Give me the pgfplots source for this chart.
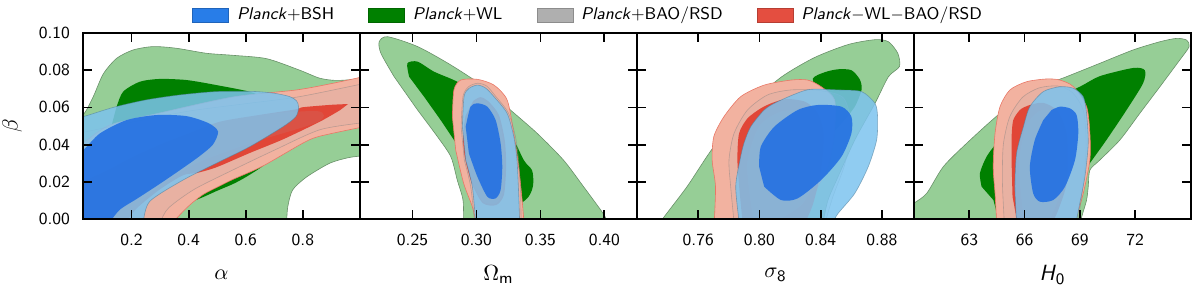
\documentclass[border=0pt]{standalone}
\usepackage{pgfplots}
\pgfplotsset{compat=1.18}
\renewcommand{\familydefault}{\sfdefault}
\definecolor{lgreen}{RGB}{150,206,150}
\definecolor{dgreen}{RGB}{0,128,0}
\definecolor{lsalmon}{RGB}{242,178,160}
\definecolor{dred}{RGB}{225,70,55}
\definecolor{lblue}{RGB}{125,195,238}
\definecolor{dblue}{RGB}{35,112,226}
\definecolor{lgray}{RGB}{175,175,175}
\definecolor{legblue}{RGB}{40,125,232}
\definecolor{legred}{RGB}{228,78,64}
\pgfplotsset{
  panel/.style={
    scale only axis, width=138.5pt, height=93pt, anchor=south west,
    ymin=0, ymax=0.1, ytick={0,0.02,0.04,0.06,0.08,0.1},
    axis on top,
    axis line style={line width=1.4pt},
    major tick style={line width=0.9pt, black},
    major tick length=4.5pt,
    tick align=inside,
    tick label style={font=\fontsize{8.5}{10}\selectfont},
    xticklabel style={yshift=-4pt},
    yticklabel style={xshift=-3pt},
    /pgf/number format/assume math mode=true,
    label style={font=\fontsize{11}{13}\selectfont},
    xlabel style={at={(axis description cs:0.5,-0.30)}, anchor=center},
  },
  cont/.style={forget plot, smooth, tension=0.45},
  go/.style={cont, fill=lgreen, draw=lgreen!70!black, line width=0.3pt},
  gi/.style={cont, fill=dgreen, draw=none},
  ro/.style={cont, fill=lsalmon, draw=dred!55!lsalmon, line width=0.3pt},
  ri/.style={cont, fill=dred, draw=none},
  gro/.style={cont, fill=lgray, fill opacity=0.15, draw=gray, draw opacity=0.45, line width=0.3pt},
  gri/.style={cont, fill=lgray, fill opacity=0.12, draw=none},
  bo/.style={cont, fill=lblue, fill opacity=0.85, draw=lblue!65!black, draw opacity=0.6, line width=0.3pt},
  bi/.style={cont, fill=dblue, fill opacity=0.9, draw=none},
}
\begin{document}
\begin{tikzpicture}
\path[use as bounding box] (0,0) rectangle (600pt,142.5pt);
% ---------------- Panel 1: alpha ----------------
\begin{axis}[panel, at={(41.5pt,33pt)},
  xmin=0.03, xmax=1.0, xtick={0.2,0.4,0.6,0.8}, xticklabels={0.2,0.4,0.6,0.8},
  yticklabels={0.00,0.02,0.04,0.06,0.08,0.10},
  xlabel={$\alpha$}, ylabel={$\beta$},
  ylabel style={at={(axis description cs:-0.256,0.5)}, anchor=center},
  legend columns=4,
  legend style={at={(axis description cs:0.372,1.097)}, anchor=west, draw=none, fill=none,
    font=\fontsize{8.5}{10}\selectfont,
    /tikz/every even column/.append style={column sep=15pt},
    /tikz/every odd column/.append style={column sep=2pt}},
  legend image code/.code={\draw[#1] (0pt,-3.5pt) rectangle (18pt,3.5pt);},
]
\addlegendimage{fill=legblue, draw=legblue!80!black, line width=0.3pt}
\addlegendentry{\textit{Planck}+BSH}
\addlegendimage{fill=dgreen, draw=dgreen!80!black, line width=0.3pt}
\addlegendentry{\textit{Planck}+WL}
\addlegendimage{fill=lgray, draw=lgray!80!black, line width=0.3pt}
\addlegendentry{\textit{Planck}+BAO/RSD}
\addlegendimage{fill=legred, draw=legred!80!black, line width=0.3pt}
\addlegendentry{\textit{Planck}$-$WL$-$BAO/RSD}

\addplot[go] coordinates {(-0.02,0.054) (0.03,0.056) (0.066,0.0658) (0.101,0.078) (0.148,0.0864) (0.206,0.0909) (0.276,0.0927) (0.357,0.0918) (0.462,0.0891) (0.555,0.0880) (0.673,0.0862) (0.789,0.0800) (0.859,0.0757) (0.92,0.0745) (1.02,0.0755) (1.05,0.0757) (1.05,0.035) (1.02,0.0342) (0.96,0.033) (0.894,0.030) (0.813,0.0226) (0.764,0.0156) (0.747,0.0065) (0.743,-0.002) (0.741,-0.008) (-0.05,-0.008) (-0.05,0.053)} -- cycle;
\addplot[gi] coordinates {(0.13,0.050) (0.148,0.0604) (0.171,0.0685) (0.229,0.0738) (0.299,0.0753) (0.393,0.0747) (0.497,0.072) (0.625,0.0679) (0.68,0.062) (0.70,0.048) (0.69,0.034) (0.66,0.0285) (0.60,0.0225) (0.555,0.0188) (0.50,0.0152) (0.451,0.0118) (0.43,0.0105) (0.40,0.0085) (0.37,0.004) (0.355,-0.002) (0.35,-0.008) (0.2,-0.008) (0.14,0.03)} -- cycle;
\addplot[ro] coordinates {(-0.02,0.039) (0.03,0.041) (0.124,0.0505) (0.299,0.057) (0.555,0.0656) (0.778,0.0694) (0.90,0.0728) (1.02,0.0768) (1.05,0.0777) (1.05,0.0505) (1.02,0.0498) (0.859,0.0445) (0.80,0.0408) (0.66,0.0285) (0.555,0.0213) (0.509,0.0178) (0.451,0.0132) (0.40,0.0070) (0.345,-0.002) (0.335,-0.008) (-0.05,-0.008) (-0.05,0.036)} -- cycle;
\addplot[gro] coordinates {(-0.02,0.045) (0.2,0.052) (0.4,0.058) (0.6,0.062) (0.789,0.0658) (1.02,0.073) (1.05,0.0735) (1.05,0.0525) (1.02,0.052) (0.86,0.048) (0.7,0.037) (0.55,0.026) (0.42,0.016) (0.33,0.006) (0.30,-0.002) (0.295,-0.008) (-0.05,-0.008) (-0.05,0.044)} -- cycle;
\addplot[ri] coordinates {(0.958,0.0618) (0.90,0.0614) (0.80,0.0601) (0.777,0.059) (0.65,0.056) (0.509,0.0523) (0.40,0.046) (0.30,0.040) (0.20,0.033) (0.10,0.025) (-0.02,0.017) (-0.05,0.015) (-0.05,-0.008) (0.17,-0.008) (0.18,-0.002) (0.22,0.006) (0.30,0.016) (0.38,0.0235) (0.43,0.0248) (0.497,0.0278) (0.614,0.0355) (0.73,0.0428) (0.859,0.0523) (0.93,0.0585)} -- cycle;
\addplot[gri] coordinates {(-0.02,0.03) (0.3,0.045) (0.6,0.055) (0.85,0.058) (0.85,0.052) (0.6,0.04) (0.4,0.028) (0.25,0.012) (0.2,-0.002) (0.195,-0.008) (-0.05,-0.008) (-0.05,0.029)} -- cycle;
\addplot[bo] coordinates {(-0.02,0.054) (0.03,0.055) (0.136,0.060) (0.25,0.064) (0.369,0.0667) (0.497,0.0685) (0.625,0.0686) (0.70,0.0676) (0.754,0.0658) (0.778,0.0635) (0.785,0.060) (0.775,0.055) (0.73,0.0496) (0.614,0.0389) (0.497,0.030) (0.381,0.021) (0.264,0.0095) (0.24,-0.002) (0.232,-0.008) (-0.05,-0.008) (-0.05,0.053)} -- cycle;
\addplot[bi] coordinates {(-0.02,0.034) (0.03,0.037) (0.089,0.046) (0.183,0.0532) (0.288,0.0559) (0.393,0.0553) (0.47,0.0515) (0.503,0.047) (0.485,0.040) (0.44,0.034) (0.381,0.0275) (0.30,0.019) (0.22,0.011) (0.159,0.005) (0.124,-0.002) (0.115,-0.008) (-0.05,-0.008) (-0.05,0.032)} -- cycle;
\end{axis}
% ---------------- Panel 2: Omega_m ----------------
\begin{axis}[panel, at={(180pt,33pt)},
  xmin=0.209, xmax=0.4255, xtick={0.25,0.30,0.35,0.40}, xticklabels={0.25,0.30,0.35,0.40},
  yticklabels={}, xlabel={$\Omega_{\mathsf{m}}$}]
\addplot[go] coordinates {(0.2357,0.0765) (0.2254,0.089) (0.224,0.0953) (0.2306,0.098) (0.254,0.0927) (0.280,0.0828) (0.3058,0.0711) (0.3266,0.0586) (0.3474,0.0461) (0.368,0.0317) (0.3837,0.0174) (0.399,0.003) (0.4025,-0.002) (0.405,-0.008) (0.2905,-0.008) (0.2900,-0.002) (0.2895,0.0102) (0.285,0.021) (0.280,0.0335) (0.2695,0.0443) (0.254,0.0586)} -- cycle;
\addplot[gi] coordinates {(0.2474,0.0765) (0.246,0.0837) (0.254,0.0846) (0.2669,0.0792) (0.285,0.0738) (0.305,0.065) (0.325,0.048) (0.337,0.0317) (0.3434,0.0263) (0.3445,0.020) (0.3434,0.0156) (0.3395,0.011) (0.33,0.008) (0.31,0.02) (0.29,0.035) (0.2824,0.0425) (0.272,0.0532) (0.259,0.0658)} -- cycle;
\addplot[ro] coordinates {(0.2812,0.055) (0.2824,0.0694) (0.2877,0.0747) (0.3007,0.0751) (0.3137,0.072) (0.324,0.064) (0.3292,0.0461) (0.333,0.0281) (0.3357,0.0102) (0.3372,-0.002) (0.338,-0.008) (0.300,-0.008) (0.2996,-0.002) (0.2968,0.0066) (0.29,0.0192) (0.2838,0.0371)} -- cycle;
\addplot[gro] coordinates {(0.288,0.0496) (0.2895,0.066) (0.294,0.0712) (0.301,0.073) (0.308,0.0715) (0.315,0.066) (0.325,0.057) (0.3305,0.0443) (0.333,0.0317) (0.3345,0.0138) (0.335,-0.002) (0.3355,-0.008) (0.298,-0.008) (0.2985,-0.002) (0.2955,0.0174) (0.2905,0.0317)} -- cycle;
\addplot[ri] coordinates {(0.2915,0.0555) (0.2895,0.045) (0.291,0.033) (0.2965,0.019) (0.305,0.0085) (0.3155,0.0075) (0.3215,0.013) (0.3232,0.028) (0.3222,0.042) (0.3175,0.056) (0.309,0.0635) (0.303,0.0655) (0.2975,0.0635)} -- cycle;
\addplot[gri] coordinates {(0.292,0.055) (0.2905,0.045) (0.292,0.033) (0.297,0.02) (0.305,0.0095) (0.315,0.0085) (0.3205,0.014) (0.322,0.028) (0.321,0.042) (0.3165,0.055) (0.3085,0.0625) (0.303,0.0645) (0.298,0.0625)} -- cycle;
\addplot[bo] coordinates {(0.289,0.0496) (0.2903,0.0658) (0.2941,0.0702) (0.3007,0.072) (0.307,0.0705) (0.3137,0.0658) (0.324,0.0568) (0.3292,0.0443) (0.3317,0.0317) (0.333,0.0138) (0.3338,-0.002) (0.3342,-0.008) (0.300,-0.008) (0.2994,-0.002) (0.2968,0.0174) (0.2916,0.0317)} -- cycle;
\addplot[bi] coordinates {(0.2916,0.0496) (0.2954,0.0604) (0.3007,0.0622) (0.3085,0.0604) (0.315,0.0532) (0.3189,0.0407) (0.3202,0.0281) (0.3189,0.0156) (0.315,0.0111) (0.3085,0.012) (0.3007,0.0228) (0.2941,0.0353)} -- cycle;
\end{axis}
% ---------------- Panel 3: sigma_8 ----------------
\begin{axis}[panel, at={(318.5pt,33pt)},
  xmin=0.72, xmax=0.901, xtick={0.76,0.80,0.84,0.88}, xticklabels={0.76,0.80,0.84,0.88},
  yticklabels={}, xlabel={$\sigma_{\mathsf{8}}$}]
\addplot[go] coordinates {(0.733,-0.008) (0.735,-0.002) (0.7527,0.0174) (0.7702,0.0389) (0.7922,0.0604) (0.8141,0.0762) (0.836,0.0868) (0.858,0.0938) (0.8755,0.0964) (0.8843,0.0953) (0.8904,0.0891) (0.8915,0.082) (0.8843,0.0765) (0.8755,0.0622) (0.8623,0.0425) (0.8514,0.0228) (0.8448,0.0102) (0.8415,-0.002) (0.840,-0.008)} -- cycle;
\addplot[gi] coordinates {(0.838,0.068) (0.835,0.0756) (0.843,0.0790) (0.8514,0.0805) (0.8601,0.0800) (0.8656,0.0750) (0.8667,0.0694) (0.862,0.060) (0.852,0.050) (0.846,0.046) (0.842,0.055)} -- cycle;
\addplot[ro] coordinates {(0.7705,-0.008) (0.7705,-0.002) (0.7713,0.0174) (0.7691,0.0317) (0.7702,0.0443) (0.7768,0.055) (0.7878,0.0658) (0.8031,0.072) (0.8207,0.0747) (0.8316,0.0747) (0.8404,0.0711) (0.8491,0.064) (0.849,0.046) (0.8448,0.0281) (0.836,0.0138) (0.8284,-0.002) (0.826,-0.008)} -- cycle;
\addplot[gro] coordinates {(0.7836,-0.008) (0.7834,-0.002) (0.7812,0.0174) (0.7801,0.0317) (0.7834,0.046) (0.7922,0.0586) (0.8053,0.0667) (0.8207,0.0694) (0.84,0.069) (0.855,0.065) (0.86,0.05) (0.856,0.03) (0.848,0.012) (0.843,-0.002) (0.842,-0.008)} -- cycle;
\addplot[ri] coordinates {(0.787,0.015) (0.7856,0.0317) (0.7867,0.046) (0.7922,0.0541) (0.8009,0.0595) (0.8086,0.0625) (0.818,0.0645) (0.830,0.063) (0.838,0.057) (0.842,0.045) (0.840,0.025) (0.835,0.008) (0.83,-0.002) (0.828,-0.008) (0.79,-0.008) (0.789,-0.002)} -- cycle;
\addplot[gri] coordinates {(0.795,0.005) (0.792,0.03) (0.80,0.05) (0.815,0.058) (0.832,0.057) (0.84,0.045) (0.838,0.025) (0.828,0.008) (0.81,-0.002) (0.808,-0.008) (0.797,-0.008) (0.797,-0.002)} -- cycle;
\addplot[bo] coordinates {(0.787,-0.008) (0.7867,-0.002) (0.7845,0.0174) (0.7873,0.0317) (0.7899,0.0407) (0.7943,0.0496) (0.8031,0.0586) (0.8119,0.0631) (0.8316,0.0695) (0.8514,0.0694) (0.8667,0.0685) (0.8755,0.0622) (0.8772,0.055) (0.8766,0.0425) (0.8711,0.0281) (0.8623,0.0138) (0.8514,0.003) (0.848,-0.002) (0.846,-0.008)} -- cycle;
\addplot[bi] coordinates {(0.7998,0.0281) (0.8009,0.0389) (0.8097,0.0496) (0.825,0.0586) (0.8382,0.0613) (0.8536,0.0604) (0.8601,0.055) (0.8601,0.046) (0.8536,0.0335) (0.8404,0.021) (0.825,0.0111) (0.8141,0.0102) (0.8031,0.0174)} -- cycle;
\end{axis}
% ---------------- Panel 4: H_0 ----------------
\begin{axis}[panel, at={(457pt,33pt)},
  xmin=60, xmax=75.04, xtick={63,66,69,72}, xticklabels={63,66,69,72},
  yticklabels={}, xlabel={\textit{H}$_{\mathsf{0}}$}]
\addplot[go] coordinates {(59.5,0.0047) (60.0,0.0085) (60.69,0.0138) (61.59,0.0281) (62.86,0.0407) (64.67,0.0568) (66.47,0.0694) (68.28,0.0765) (70.09,0.0837) (71.9,0.0909) (73.35,0.0953) (74.25,0.0971) (74.8,0.0962) (74.94,0.0927) (74.43,0.0855) (73.35,0.0711) (72.26,0.0568) (71.18,0.0425) (70.09,0.0317) (69.55,0.0263) (69.46,0.0174) (69.37,0.0102) (69.1,0.001) (69.05,-0.002) (69.0,-0.008) (59.5,-0.008)} -- cycle;
\addplot[gi] coordinates {(63.67,0.0174) (63.58,0.0246) (63.94,0.0335) (64.49,0.0407) (65.5,0.05) (67,0.062) (69.0,0.0711) (70.09,0.0768) (71.9,0.0812) (72.53,0.0800) (72.44,0.073) (71.54,0.0586) (70.45,0.0425) (69.55,0.030) (68.5,0.015) (67.5,0.002) (67.3,-0.002) (67.1,-0.008) (64.5,-0.008) (64.5,-0.002) (64.49,0.003) (64.31,0.0102)} -- cycle;
\addplot[ro] coordinates {(64.5,-0.008) (64.49,-0.002) (64.4,0.0138) (64.3,0.0281) (64.4,0.046) (64.67,0.0604) (65.21,0.0694) (66.11,0.0738) (67.2,0.0753) (67.92,0.0747) (68.65,0.0712) (69.37,0.0604) (69.55,0.046) (69.55,0.0317) (69.19,0.0138) (68.74,-0.002) (68.6,-0.008)} -- cycle;
\addplot[gro] coordinates {(64.9,-0.008) (64.9,-0.002) (64.8,0.02) (64.85,0.04) (65.2,0.055) (65.9,0.0655) (66.8,0.0705) (67.8,0.0715) (68.6,0.068) (69.2,0.058) (69.35,0.04) (69.2,0.02) (68.9,-0.002) (68.8,-0.008)} -- cycle;
\addplot[ri] coordinates {(65.3,0.030) (65.3,0.0443) (65.39,0.0532) (65.75,0.0586) (66.2,0.0610) (67,0.0625) (67.8,0.058) (68.3,0.045) (68.3,0.02) (67.8,0.004) (67.5,-0.002) (67.3,-0.008) (65.6,-0.008) (65.6,-0.002) (65.35,0.012)} -- cycle;
\addplot[gri] coordinates {(65.9,0.005) (65.7,0.03) (66.1,0.05) (66.8,0.058) (67.6,0.058) (68.1,0.05) (68.2,0.03) (67.8,0.01) (67.3,-0.002) (67.2,-0.008) (66.1,-0.008) (66.1,-0.002)} -- cycle;
\addplot[bo] coordinates {(65.6,-0.008) (65.57,-0.002) (65.48,0.0174) (65.57,0.0353) (65.94,0.0496) (66.29,0.0604) (67.02,0.0685) (67.92,0.0711) (68.65,0.0703) (69.19,0.0658) (69.37,0.0568) (69.46,0.0407) (69.28,0.0228) (69.0,0.0084) (68.8,-0.002) (68.7,-0.008)} -- cycle;
\addplot[bi] coordinates {(67.47,0.0586) (67.92,0.0604) (68.46,0.0595) (68.83,0.0559) (68.92,0.046) (68.74,0.0317) (68.2,0.0174) (67.56,0.0102) (66.84,0.0093) (66.47,0.0138) (66.29,0.0281) (66.56,0.0425) (67.02,0.0532)} -- cycle;
\end{axis}
\end{tikzpicture}
\end{document}
